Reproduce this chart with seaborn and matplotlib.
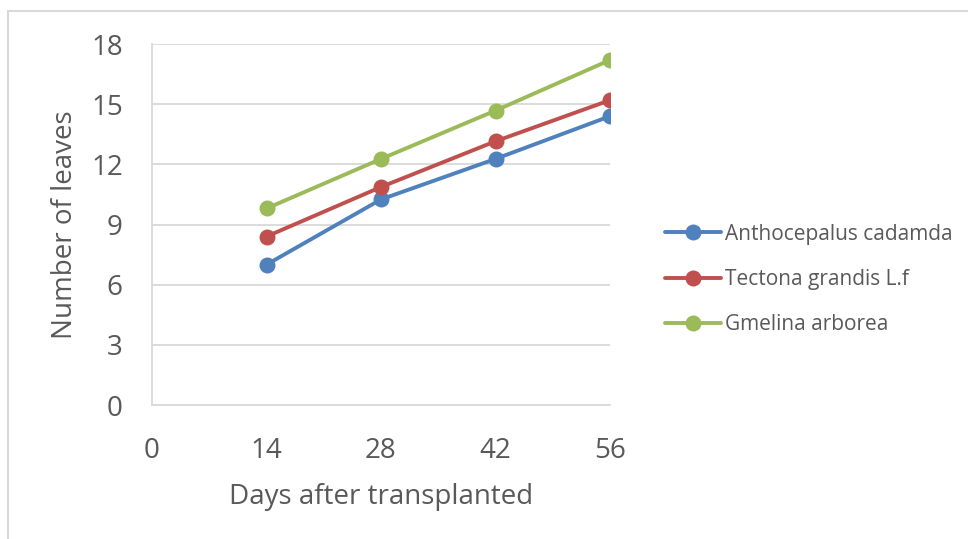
import pandas as pd
import matplotlib
matplotlib.use("Agg")
import matplotlib.pyplot as plt
import seaborn as sns
from matplotlib.patches import Rectangle

# dados
days = [14, 28, 42, 56]
anthocepalus = [7.0, 10.25, 12.27, 14.4]
tectona = [8.4, 10.87, 13.15, 15.2]
gmelina = [9.8, 12.27, 14.68, 17.2]
species = ["Anthocepalus cadamda", "Tectona grandis L.f", "Gmelina arborea"]
colors = ["#4F81BD", "#C0504D", "#9BBB59"]
x_ticks = [0, 14, 28, 42, 56]
y_ticks = [0, 3, 6, 9, 12, 15, 18]

df = pd.DataFrame({
    "dias": days * 3,
    "folhas": anthocepalus + tectona + gmelina,
    "especie": [s for s in species for _ in days],
})

sns.set_style("white")
plt.rcParams["font.family"] = ["Open Sans", "DejaVu Sans"]
txt = "#595959"
grid = "#D9D9D9"

fig = plt.figure(figsize=(9.68, 5.39), dpi=100)
ax = fig.add_axes([152 / 968, 1 - 405 / 539, (610 - 152) / 968, (405 - 44) / 539])

sns.lineplot(data=df, x="dias", y="folhas", hue="especie", hue_order=species,
             palette=colors, marker="o", markersize=11.5, markeredgewidth=0,
             linewidth=2.8, ax=ax)

ax.set_xlim(0, 56)
ax.set_ylim(0, 18)
ax.set_xticks(x_ticks)
ax.set_yticks(y_ticks)
ax.yaxis.grid(True, color=grid, linewidth=1.3)
ax.set_axisbelow(True)
for s in ["top", "right"]:
    ax.spines[s].set_visible(False)
for s in ["left", "bottom"]:
    ax.spines[s].set_color(grid)
    ax.spines[s].set_linewidth(1.3)
ax.tick_params(axis="both", length=0, labelsize=20, colors=txt)
ax.tick_params(axis="x", pad=23)
ax.tick_params(axis="y", pad=21)

ax.set_xlabel("Days after transplanted", fontsize=20, color=txt, labelpad=13)
ax.set_ylabel("Number of leaves", fontsize=20, color=txt, labelpad=9)

ax.legend(title=None, frameon=False, fontsize=15, labelcolor=txt,
          loc="center left", bbox_to_anchor=(1.079, 0.348),
          handlelength=2.7, handletextpad=0.2, labelspacing=1.16)

# moldura do gráfico
fig.patches.append(Rectangle((8 / 968, -0.05), 1.1, 1 - 11 / 539 + 0.05,
                             transform=fig.transFigure, fill=False,
                             edgecolor=grid, linewidth=1.5))

plt.savefig("out.png", dpi=100)
